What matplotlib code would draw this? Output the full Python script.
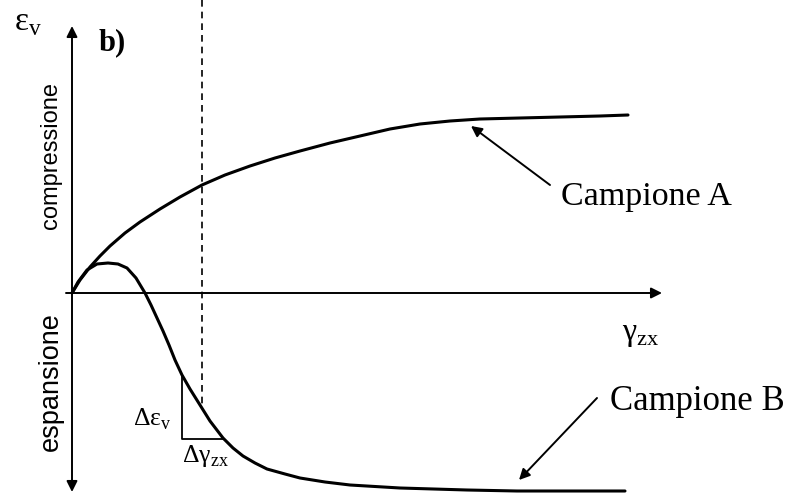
import matplotlib
matplotlib.use("Agg")
import matplotlib.pyplot as plt

# Schematic drawn in a screen-like frame: x = shear strain, y grows downward
# Origin of the eps_v / gamma_zx axes
origin = (72, 293)

# Campione A: monotonic contraction that flattens out
curve_a_x = [72, 80, 90, 100, 110, 125, 140, 160, 180, 202, 225, 250, 275, 300,
             330, 360, 390, 420, 450, 480, 520, 560, 600, 628]
curve_a_y = [293, 280, 267, 256, 246, 233, 222, 209, 197, 185, 175, 166, 158, 151,
             143, 136, 129, 124, 121, 119, 118, 117, 116, 115]

# Campione B: small contraction, then dilation to a plateau
curve_b_x = [72, 78, 87, 97, 108, 118, 127, 136, 145, 151, 157, 163, 169, 175, 182,
             190, 200, 210, 223, 233, 243, 255, 267, 285, 300, 325, 350, 400,
             467, 517, 625]
curve_b_y = [293, 282, 270, 264, 263, 264, 268, 278, 293, 305, 318, 331, 345, 360, 375,
             389, 405, 421, 438, 448, 456, 463, 469, 474, 478, 482, 485, 488,
             490, 491, 491]

# Slope triangle on curve B
tri_x = [182, 182, 223]
tri_y = [375, 439, 439]

dashed_x = 202
dashed_top, dashed_bottom = 0, 404

fig = plt.figure(figsize=(7.92, 4.94), dpi=100)
ax = fig.add_axes([0, 0, 1, 1])
ax.set_xlim(0, 792)
ax.set_ylim(494, 0)
ax.axis("off")

serif = "Liberation Serif"
sans = "Liberation Sans"
arrow_kw = dict(color="black", lw=1.4, mutation_scale=16, shrinkA=0, shrinkB=0)

# axes with arrowheads
ax.annotate("", xy=(origin[0], 26), xytext=(origin[0], 492),
            arrowprops=dict(arrowstyle="<|-|>", **arrow_kw))
ax.annotate("", xy=(662, origin[1]), xytext=(66, origin[1]),
            arrowprops=dict(arrowstyle="-|>", **arrow_kw))

ax.plot(curve_a_x, curve_a_y, color="black", lw=2.2, solid_capstyle="round",
        solid_joinstyle="round")
ax.plot(curve_b_x, curve_b_y, color="black", lw=2.2, solid_capstyle="round",
        solid_joinstyle="round")
ax.plot(tri_x, tri_y, color="black", lw=1.3)
ax.plot([dashed_x, dashed_x], [dashed_top, dashed_bottom], color="black",
        lw=1.2, linestyle=(0, (4, 3)))

# labels
ax.text(14, 30, r"$\mathregular{\varepsilon}_{\mathregular{v}}$", fontsize=24,
        family=serif, ha="left", va="baseline")
ax.text(99, 50, "b)", fontsize=22, family=serif, weight="bold",
        ha="left", va="baseline")
ax.text(51, 155, "compressione", fontsize=17, family=sans, rotation=90,
        ha="center", va="center")
ax.text(51, 382, "espansione", fontsize=19.5, family=sans, rotation=90,
        ha="center", va="center")
ax.text(622, 340, r"$\mathregular{\gamma}_{\mathregular{zx}}$", fontsize=23,
        family=serif, ha="left", va="baseline")
ax.text(133, 425, r"$\mathregular{\Delta\varepsilon}_{\mathregular{v}}$",
        fontsize=18.5, family=serif, ha="left", va="baseline")
ax.text(182, 462, r"$\mathregular{\Delta\gamma}_{\mathregular{zx}}$",
        fontsize=18.5, family=serif, ha="left", va="baseline")

ax.text(561, 205, "Campione A", fontsize=24.5, family=serif, ha="left", va="baseline")
ax.annotate("", xy=(471, 126), xytext=(550, 185),
            arrowprops=dict(arrowstyle="-|>", **arrow_kw))
ax.text(610, 410, "Campione B", fontsize=25, family=serif, ha="left", va="baseline")
ax.annotate("", xy=(519, 480), xytext=(597, 398),
            arrowprops=dict(arrowstyle="-|>", **arrow_kw))

fig.savefig("out.png", dpi=100)
